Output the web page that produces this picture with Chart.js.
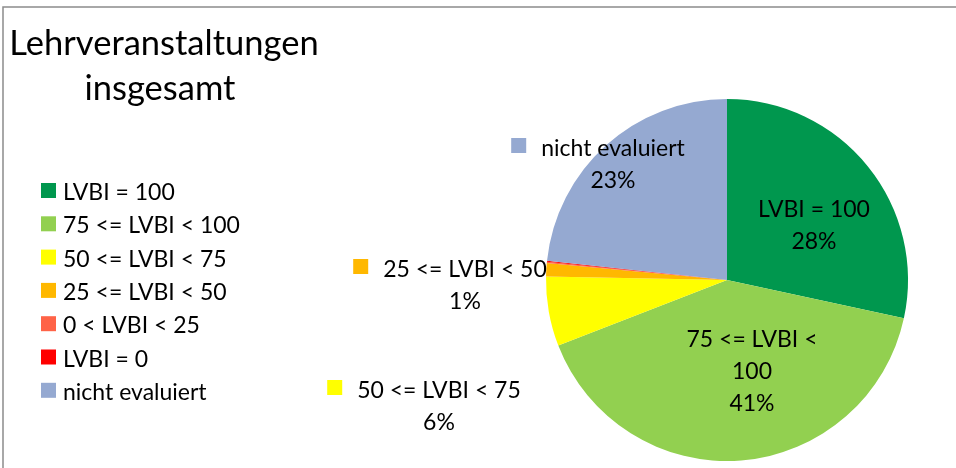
<!DOCTYPE html>
<html>
<head>
<meta charset="utf-8">
<script src="https://cdn.jsdelivr.net/npm/chart.js@4.4.1/dist/chart.umd.min.js"></script>
<style>
  html, body { margin: 0; padding: 0; background: #fff; }
  #wrap { position: relative; width: 956px; height: 468px; }
</style>
</head>
<body>
<div id="wrap"><canvas id="pie" width="956" height="468"></canvas></div>
<script>
// Lehrveranstaltungen insgesamt — Kreisdiagramm

const TITLE_LINES = ['Lehrveranstaltungen', 'insgesamt'];
const CATEGORIES = ['LVBI = 100', '75 <= LVBI < 100', '50 <= LVBI < 75', '25 <= LVBI < 50', '0 < LVBI < 25', 'LVBI = 0', 'nicht evaluiert'];
const SHARES = [28.4, 40.7, 6.2, 1.2, 0.1, 0.1, 23.3];
const COLORS = ['#00974E', '#92D050', '#FFFF00', '#FFB800', '#FF6347', '#FF0000', '#95A9D1'];

// Beschriftungen der Segmente (Textzeilen / Versatz zum Mittelpunkt / mit Farbschlüssel)
const LABEL_LINES = { 1: ['75 <= LVBI <', '100'] };
const LABEL_SPOTS = {
  0: { dx: 87,   dy: -63,  key: false },
  1: { dx: 25,   dy: 67,   key: false },
  2: { dx: -288, dy: 118,  key: true },
  3: { dx: -262, dy: -3,   key: true },
  6: { dx: -114, dy: -124, key: true }
};

const FONT = '"Lato", "Open Sans", sans-serif';
const TEXT_COLOR = '#000';

const total = SHARES.reduce((s, v) => s + v, 0);
const pct = v => Math.round(v / total * 100) + '%';

const frameAndTexts = {
  id: 'frameAndTexts',
  beforeDraw(chart) {
    const ctx = chart.ctx;
    ctx.save();
    ctx.strokeStyle = '#8c8c8c';
    ctx.lineWidth = 1.5;
    ctx.strokeRect(3, 7, 1200, 800);
    ctx.restore();
  },
  afterDraw(chart) {
    const ctx = chart.ctx;
    ctx.save();
    ctx.fillStyle = TEXT_COLOR;

    // Titel
    ctx.font = '34.5px ' + FONT;
    ctx.textAlign = 'center';
    ctx.textBaseline = 'alphabetic';
    ctx.fillText(TITLE_LINES[0], 164, 55);
    ctx.fillText(TITLE_LINES[1], 160, 100);

    // Legende
    ctx.font = '23px ' + FONT;
    ctx.textAlign = 'left';
    CATEGORIES.forEach((c, i) => {
      const base = 200 + i * 33.3;
      ctx.fillStyle = COLORS[i];
      ctx.fillRect(41, base - 17, 15, 15);
      ctx.fillStyle = TEXT_COLOR;
      ctx.fillText(c, 63, base);
    });

    // Datenbeschriftungen
    const arcs = chart.getDatasetMeta(0).data;
    const cx = arcs[0].x, cy = arcs[0].y;
    Object.keys(LABEL_SPOTS).forEach(k => {
      const i = +k;
      const spot = LABEL_SPOTS[i];
      const lines = (LABEL_LINES[i] || [CATEGORIES[i]]).concat([pct(SHARES[i])]);
      const x = cx + spot.dx, y0 = cy + spot.dy;
      ctx.textAlign = 'center';
      lines.forEach((t, j) => ctx.fillText(t, x, y0 + j * 32));
      if (spot.key) {
        const w = ctx.measureText(lines[0]).width;
        ctx.fillStyle = COLORS[i];
        ctx.fillRect(x - w / 2 - 30, y0 - 18, 15, 15);
        ctx.fillStyle = TEXT_COLOR;
      }
    });
    ctx.restore();
  }
};

new Chart(document.getElementById('pie'), {
  type: 'pie',
  data: {
    labels: CATEGORIES,
    datasets: [{
      data: SHARES,
      backgroundColor: COLORS,
      borderWidth: 0
    }]
  },
  options: {
    responsive: false,
    animation: false,
    events: [],
    layout: { padding: { left: 546, right: 48, top: 99, bottom: 7 } },
    plugins: {
      legend: { display: false },
      tooltip: { enabled: false },
      title: { display: false }
    }
  },
  plugins: [frameAndTexts]
});
</script>
</body>
</html>
